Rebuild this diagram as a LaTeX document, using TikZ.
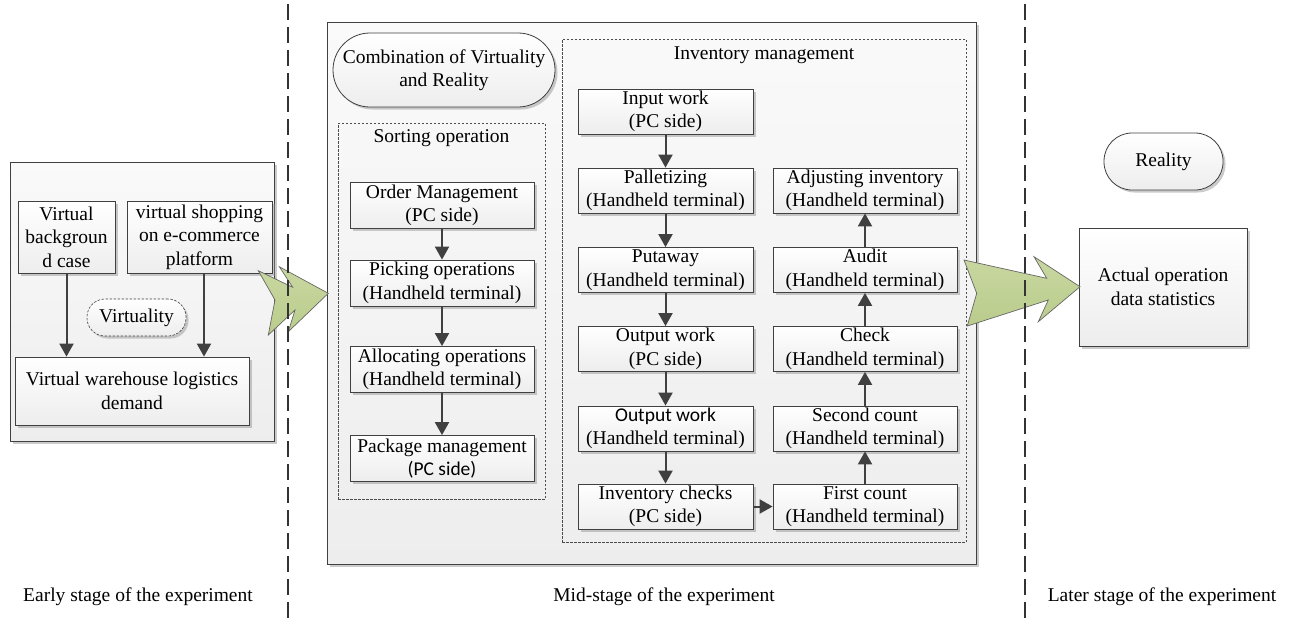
\documentclass[tikz,border=0pt]{standalone}
\usepackage{fontspec}
\setmainfont{Liberation Serif}
\newfontfamily\carlfont{Carlito}
\usetikzlibrary{arrows.meta,shadows}
\definecolor{arrowgreen}{RGB}{186,204,140}
\definecolor{arrowgreenlight}{RGB}{200,215,160}
\begin{document}
\begin{tikzpicture}[x=1pt,y=-1pt,
  font=\fontsize{19.5}{23.5}\selectfont,
  shad/.style={drop shadow={shadow xshift=2.5pt,shadow yshift=-2.5pt,fill=black!45,opacity=0.45}},
  box/.style={draw=black!75,line width=0.8pt,top color=white,bottom color=black!7,align=center,inner sep=0pt,shad},
  container/.style={draw=black!75,line width=0.8pt,top color=black!2,bottom color=black!7,shad},
  dbox/.style={draw=black!70,line width=0.6pt,dash pattern=on 2.5pt off 1.5pt},
  pill/.style={box,rounded corners=#1},
  arr/.style={draw=black!75,line width=2pt,-{Triangle[length=13pt,width=14pt]}},
  bigarrow/.style={draw=black!60,line width=0.7pt,top color=arrowgreenlight,bottom color=arrowgreen},
  sep/.style={draw=black!80,line width=1.6pt,dash pattern=on 16pt off 7pt},
  title/.style={inner sep=0pt,align=center}]
\useasboundingbox (0,0) rectangle (1290,622);

% containers
\node[container,minimum width=264,minimum height=279] (leftbox) at (142,301.5) {};
\node[container,minimum width=649,minimum height=542] (midbox) at (651.5,293) {};
\node[dbox,minimum width=207,minimum height=376] (sortbox) at (441.5,311) {};
\node[dbox,minimum width=404,minimum height=503] (invbox) at (764,290.5) {};

% left stage
\node[box,minimum width=97,minimum height=72] (vb) at (66.5,237) {Virtual\\backgroun\\d case};
\node[box,minimum width=145,minimum height=72] (vs) at (199.5,237) {virtual shopping\\on e-commerce\\platform};
\node[box,minimum width=234,minimum height=68] (vw) at (132,391) {Virtual warehouse logistics\\demand};
\node[draw=black!75,line width=0.6pt,dash pattern=on 2.5pt off 1.5pt,rounded corners=18pt,top color=white,bottom color=black!7,shad,minimum width=99,minimum height=37,inner sep=0pt] (virt) at (136.5,317.5) {Virtuality};
\draw[arr] (vb.south) -- (vb.south |- vw.north);
\coordinate (vsout) at ([xshift=4.5pt]vs.south);
\draw[arr] (vsout) -- (vsout |- vw.north);

% middle stage
\node[pill=37pt,minimum width=222,minimum height=74] (comb) at (444,70) {Combination of Virtuality\\and Reality};
\node[title] (sorttitle) at (441.5,138) {Sorting operation};
\node[box,minimum width=184,minimum height=46] (order) at (442,205.5) {Order Management\\(PC side)};
\node[box,minimum width=184,minimum height=46] (pick) at (442,283) {Picking operations\\(Handheld terminal)};
\node[box,minimum width=184,minimum height=46] (alloc) at (442,369.5) {Allocating operations\\(Handheld terminal)};
\node[box,minimum width=184,minimum height=46] (pack) at (442,458.5) {Package management\\{\carlfont(PC side)}};
\draw[arr] (order) -- (pick);
\draw[arr] (pick) -- (alloc);
\draw[arr] (alloc) -- (pack);

\node[title] (invtitle) at (764,55) {Inventory management};
\node[box,minimum width=175,minimum height=45] (input) at (665.5,111.5) {Input work\\(PC side)};
\node[box,minimum width=175,minimum height=45] (pallet) at (665.5,190.5) {Palletizing\\(Handheld terminal)};
\node[box,minimum width=175,minimum height=45] (put) at (665.5,270) {Putaway\\(Handheld terminal)};
\node[box,minimum width=175,minimum height=45] (outpc) at (665.5,349) {Output work\\(PC side)};
\node[box,minimum width=175,minimum height=45] (outht) at (665.5,428.5) {{\carlfont Output work}\\(Handheld terminal)};
\node[box,minimum width=175,minimum height=45] (ichk) at (665.5,506.5) {Inventory checks\\(PC side)};
\node[box,minimum width=184,minimum height=45] (adj) at (865,190.5) {Adjusting inventory\\(Handheld terminal)};
\node[box,minimum width=184,minimum height=45] (audit) at (865,270) {Audit\\(Handheld terminal)};
\node[box,minimum width=184,minimum height=45] (check) at (865,349) {Check\\(Handheld terminal)};
\node[box,minimum width=184,minimum height=45] (second) at (865,428.5) {Second count\\(Handheld terminal)};
\node[box,minimum width=184,minimum height=45] (first) at (865,506.5) {First count\\(Handheld terminal)};
\draw[arr] (input) -- (pallet);
\draw[arr] (pallet) -- (put);
\draw[arr] (put) -- (outpc);
\draw[arr] (outpc) -- (outht);
\draw[arr] (outht) -- (ichk);
\draw[arr] (ichk) -- (first);
\draw[arr] (first) -- (second);
\draw[arr] (second) -- (check);
\draw[arr] (check) -- (audit);
\draw[arr] (audit) -- (adj);

% right stage
\node[pill=28pt,minimum width=119,minimum height=57] (real) at (1163.5,161.5) {Reality};
\node[box,minimum width=168,minimum height=118] (actual) at (1163,287) {Actual operation\\data statistics};

% big arrows
\path[bigarrow] (258.3,270.7) -- (292.7,287.3) -- (279.3,266.7) -- (328.3,293.3) -- (288.3,331.7) -- (295,310) -- (268.3,335) -- (275,300) -- cycle;
\path[bigarrow] (964,260) -- (1046.7,278.3) -- (1034,256.7) -- (1080,286.7) -- (1038.3,321.7) -- (1048.3,300) -- (967.3,326) -- (976.7,293.3) -- cycle;

% stage separators
\coordinate (s1t) at (288,4);
\coordinate (s1b) at (288,618);
\coordinate (s2t) at (1025,4);
\coordinate (s2b) at (1025,618);
\draw[sep] (s1t) -- (s1b);
\draw[sep] (s2t) -- (s2b);

% stage labels
\node[title] (early) at (138,597) {Early stage of the experiment};
\node[title] (mid) at (664,597) {Mid-stage of the experiment};
\node[title] (later) at (1162,597) {Later stage of the experiment};
\end{tikzpicture}
\end{document}
